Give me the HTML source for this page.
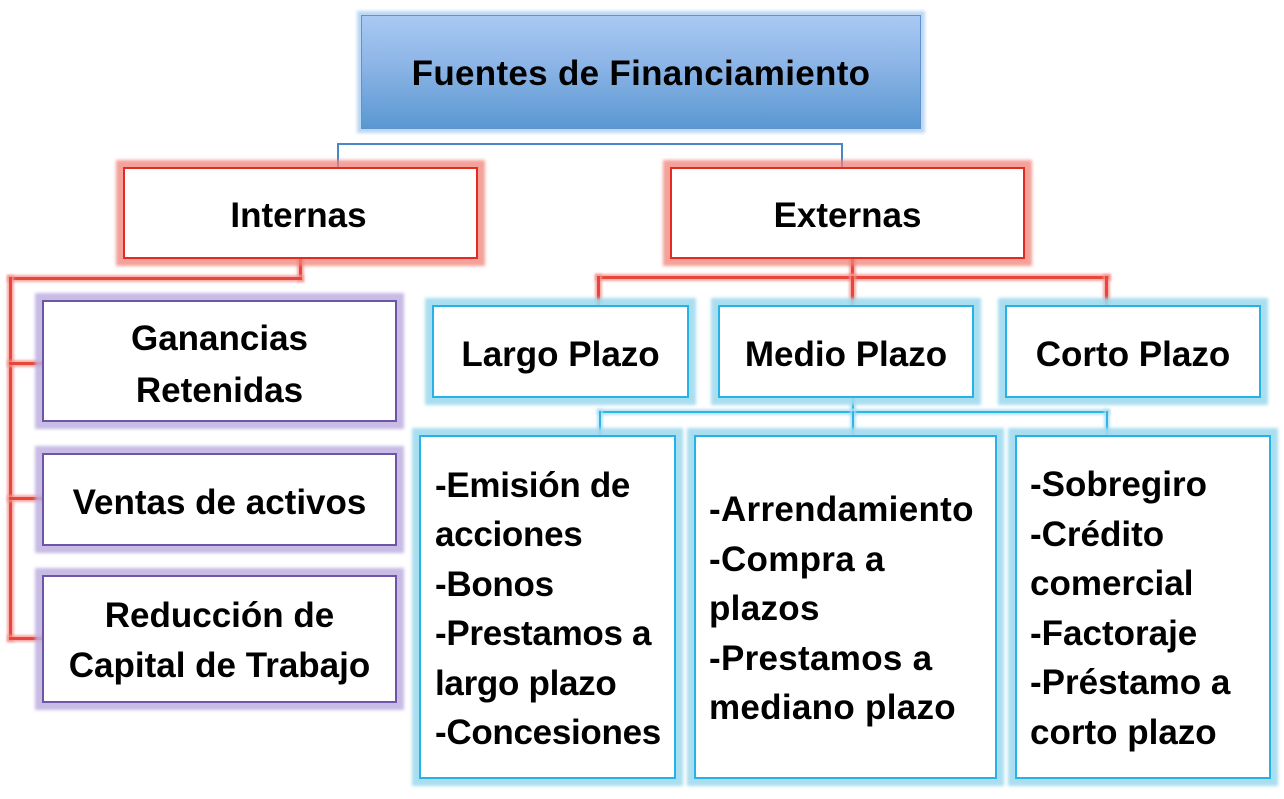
<!DOCTYPE html>
<html>
<head>
<meta charset="utf-8">
<style>
html,body{margin:0;padding:0;background:#fff;}
body{width:1284px;height:799px;position:relative;overflow:hidden;font-family:"Liberation Sans",Arial,sans-serif;font-weight:bold;color:#000;}
.b{position:absolute;box-sizing:border-box;background:#fff;}
.red{border:2px solid #e52a22;box-shadow:0 0 3px 7px rgba(240,130,120,0.75);}
.pur{border:2px solid #6e55a8;box-shadow:0 0 3px 7px rgba(190,175,225,0.85);}
.cy{border:2px solid #25b2e6;box-shadow:0 0 3px 7px rgba(160,218,238,0.9);}
.top{border:1px solid #5a93cf;background:linear-gradient(#a9c9f3,#8bb4e6 45%,#5a98d1);box-shadow:0 0 3px 4px rgba(170,205,240,0.8);}
.t{position:absolute;font-size:35px;line-height:50px;white-space:nowrap;}
.c{text-align:center;}
.ln{position:absolute;}
.rl{background:#e8453b;box-shadow:0 0 2px 2px rgba(245,150,145,0.8);}
.bl{background:#4a86c8;}
.cl{background:#2bb5e8;box-shadow:0 0 2px 2px rgba(170,222,242,0.8);}
</style>
</head>
<body>
<!-- connectors -->
<div class="ln bl" style="left:337px;top:143px;width:506px;height:2px;"></div>
<div class="ln bl" style="left:337px;top:143px;width:2px;height:25px;"></div>
<div class="ln bl" style="left:841px;top:143px;width:2px;height:25px;"></div>

<div class="ln rl" style="left:299px;top:259px;width:3px;height:21px;"></div>
<div class="ln rl" style="left:9px;top:277px;width:293px;height:3px;"></div>
<div class="ln rl" style="left:9px;top:277px;width:3px;height:363px;"></div>
<div class="ln rl" style="left:9px;top:362px;width:33px;height:3px;"></div>
<div class="ln rl" style="left:9px;top:497px;width:33px;height:3px;"></div>
<div class="ln rl" style="left:9px;top:637px;width:33px;height:3px;"></div>

<div class="ln rl" style="left:851px;top:259px;width:3px;height:20px;"></div>
<div class="ln rl" style="left:597px;top:276px;width:512px;height:3px;"></div>
<div class="ln rl" style="left:597px;top:276px;width:3px;height:29px;"></div>
<div class="ln rl" style="left:851px;top:276px;width:3px;height:29px;"></div>
<div class="ln rl" style="left:1105px;top:276px;width:3px;height:29px;"></div>

<div class="ln cl" style="left:852px;top:398px;width:2px;height:16px;"></div>
<div class="ln cl" style="left:599px;top:411px;width:509px;height:2px;"></div>
<div class="ln cl" style="left:599px;top:411px;width:2px;height:24px;"></div>
<div class="ln cl" style="left:852px;top:411px;width:2px;height:24px;"></div>
<div class="ln cl" style="left:1106px;top:411px;width:2px;height:24px;"></div>

<!-- boxes -->
<div class="b top" style="left:361px;top:15px;width:560px;height:114px;"></div>
<div class="b red" style="left:123px;top:167px;width:355px;height:92px;"></div>
<div class="b red" style="left:670px;top:167px;width:355px;height:92px;"></div>
<div class="b pur" style="left:42px;top:300px;width:355px;height:122px;"></div>
<div class="b pur" style="left:42px;top:453px;width:355px;height:93px;"></div>
<div class="b pur" style="left:42px;top:575px;width:355px;height:128px;"></div>
<div class="b cy" style="left:432px;top:305px;width:257px;height:93px;"></div>
<div class="b cy" style="left:718px;top:305px;width:256px;height:93px;"></div>
<div class="b cy" style="left:1005px;top:305px;width:256px;height:93px;"></div>
<div class="b cy" style="left:419px;top:435px;width:257px;height:344px;"></div>
<div class="b cy" style="left:694px;top:435px;width:303px;height:344px;"></div>
<div class="b cy" style="left:1015px;top:435px;width:256px;height:344px;"></div>

<!-- texts -->
<div class="t c" style="left:361px;top:49px;width:560px;letter-spacing:0.3px;">Fuentes de Financiamiento</div>
<div class="t c" style="left:121px;top:191px;width:355px;">Internas</div>
<div class="t c" style="left:670px;top:191px;width:355px;">Externas</div>
<div class="t c" style="left:42px;top:313px;width:355px;line-height:52px;">Ganancias<br>Retenidas</div>
<div class="t c" style="left:42px;top:478px;width:355px;">Ventas de activos</div>
<div class="t c" style="left:42px;top:591px;width:355px;">Reducción de<br>Capital de Trabajo</div>
<div class="t c" style="left:432px;top:330px;width:257px;">Largo Plazo</div>
<div class="t c" style="left:718px;top:330px;width:256px;">Medio Plazo</div>
<div class="t c" style="left:1005px;top:330px;width:256px;">Corto Plazo</div>
<div class="t" style="left:435px;top:461px;line-height:49.4px;letter-spacing:-0.3px;">-Emisión de<br>acciones<br>-Bonos<br>-Prestamos a<br>largo plazo<br>-Concesiones</div>
<div class="t" style="left:709px;top:485px;line-height:49.5px;letter-spacing:0.3px;">-Arrendamiento<br>-Compra a<br>plazos<br>-Prestamos a<br>mediano plazo</div>
<div class="t" style="left:1030px;top:460px;line-height:49.6px;">-Sobregiro<br>-Crédito<br>comercial<br>-Factoraje<br>-Préstamo a<br>corto plazo</div>
</body>
</html>
